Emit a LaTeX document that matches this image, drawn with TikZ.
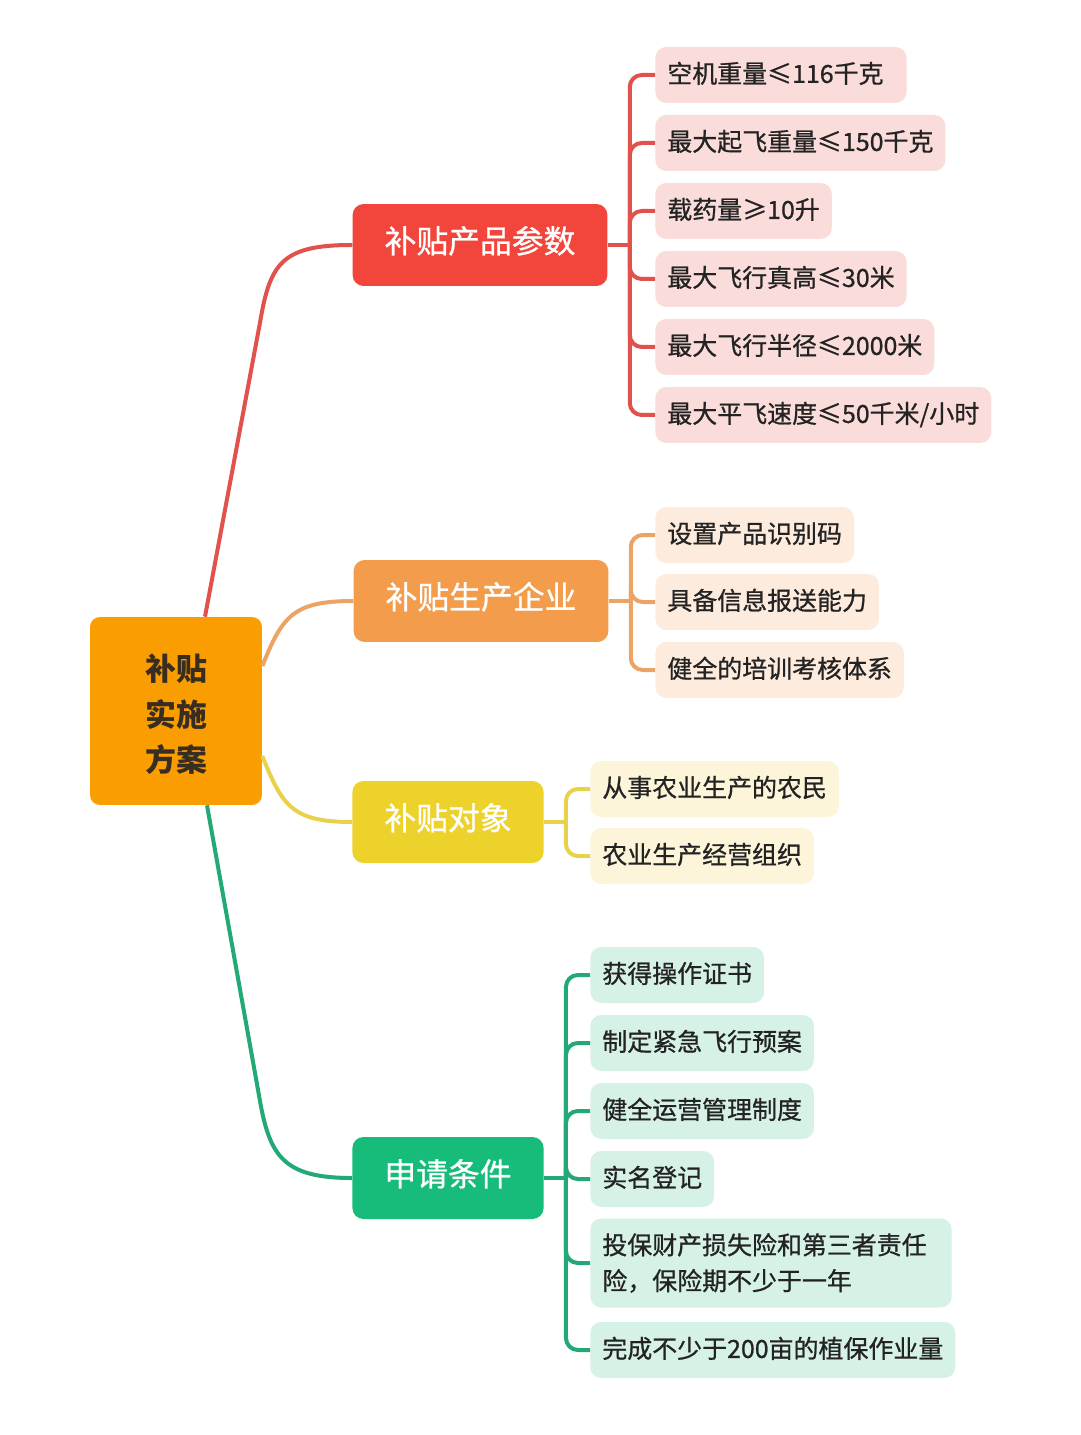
\documentclass[tikz,border=0pt]{standalone}
\usepackage{fontspec}
\setmainfont{Noto Sans CJK SC}
\newfontfamily\medfont{Noto Sans CJK SC}[FakeBold=0.8]
\usetikzlibrary{calc}

\definecolor{planfill}{HTML}{F99D00}
\definecolor{prodfill}{HTML}{F2463C}
\definecolor{prodline}{HTML}{E0524B}
\definecolor{prodleaf}{HTML}{FADDDA}
\definecolor{firmfill}{HTML}{F39C4C}
\definecolor{firmline}{HTML}{EBA463}
\definecolor{firmleaf}{HTML}{FDEBDD}
\definecolor{objfill}{HTML}{EDD22C}
\definecolor{objline}{HTML}{E8D24C}
\definecolor{objleaf}{HTML}{FCF5DA}
\definecolor{condfill}{HTML}{17BC7B}
\definecolor{condline}{HTML}{22A976}
\definecolor{condleaf}{HTML}{D6F1E5}
\definecolor{leaftext}{HTML}{232323}

\tikzset{
  rootbox/.style={rectangle, rounded corners=0.2cm, fill=planfill, minimum width=3.44cm,
    minimum height=3.76cm},
  roottext/.style={align=center, text=leaftext!90!orange, yshift=-0.07cm,
    font=\fontsize{17.6}{26}\selectfont\bfseries},
  branch/.style={rectangle, rounded corners=0.22cm, minimum height=1.64cm, inner xsep=0.64cm,
    text=white, text height=0.95em, text depth=0.05em, font=\fontsize{18.1}{22}\selectfont\medfont},
  leaf/.style={rectangle, rounded corners=0.22cm, anchor=west, minimum height=1.12cm,
    inner xsep=0.24cm, text=leaftext, text height=0.95em, text depth=0.05em,
    font=\fontsize{14.2}{20.4}\selectfont\medfont},
  twoline/.style={text height=, text depth=, align=left, inner ysep=0.22cm},
  link/.style={line width=0.08cm},
}

\begin{document}
\begin{tikzpicture}[x=0.02cm,y=-0.02cm]
  \useasboundingbox[fill=white] (0,0) rectangle (1080,1435);

  \node[rootbox, label={[roottext]center:补贴\\实施\\方案}] (plan) at (176,711) {};

  \node[branch, fill=prodfill] (prod) at (480,245) {补贴产品参数};
  \node[branch, fill=firmfill] (firm) at (481,601) {补贴生产企业};
  \node[branch, fill=objfill] (obj) at (448,822) {补贴对象};
  \node[branch, fill=condfill] (cond) at (448,1178) {申请条件};

  % root to branches
  \draw[link, prodline] ($(plan.north)+(29,0)$) -- ++(55,-294)
    .. controls +(10,-60) and +(-70,0) .. (prod.west);
  \draw[link, firmline] ($(plan.east)+(0,-45)$)
    .. controls +(20,-50) and +(-60,0) .. (firm.west);
  \draw[link, objline] ($(plan.east)+(0,45)$)
    .. controls +(20,50) and +(-60,0) .. (obj.west);
  \draw[link, condline] ($(plan.south)+(31,0)$) -- ++(52,290)
    .. controls +(10,60) and +(-70,0) .. (cond.west);

  % product parameters
  \node[leaf, fill=prodleaf] (p1) at (655,75) {空机重量≤116千克\kern0.22cm};
  \node[leaf, fill=prodleaf] (p2) at (655,143) {最大起飞重量≤150千克};
  \node[leaf, fill=prodleaf] (p3) at (655,211) {载药量≥10升};
  \node[leaf, fill=prodleaf] (p4) at (655,279) {最大飞行真高≤30米};
  \node[leaf, fill=prodleaf] (p5) at (655,347) {最大飞行半径≤2000米};
  \node[leaf, fill=prodleaf] (p6) at (655,415) {最大平飞速度≤50千米/小时};
  \coordinate (jp) at ($(prod.east)+(22,0)$);
  \draw[link, prodline] (prod.east) -- (jp);
  \foreach \n in {p1,p2,p3,p4,p5,p6}
    \draw[link, prodline, rounded corners=0.24cm] (jp) |- (\n.west);

  % producers
  \node[leaf, fill=firmleaf] (f1) at (655,535) {设置产品识别码};
  \node[leaf, fill=firmleaf] (f2) at (655,602) {具备信息报送能力};
  \node[leaf, fill=firmleaf] (f3) at (655,670) {健全的培训考核体系};
  \coordinate (jf) at ($(firm.east)+(22,0)$);
  \draw[link, firmline] (firm.east) -- (jf);
  \foreach \n in {f1,f2,f3}
    \draw[link, firmline, rounded corners=0.24cm] (jf) |- (\n.west);

  % recipients
  \node[leaf, fill=objleaf] (o1) at (590,789) {从事农业生产的农民};
  \node[leaf, fill=objleaf] (o2) at (590,856) {农业生产经营组织};
  \coordinate (jo) at ($(obj.east)+(22,0)$);
  \draw[link, objline] (obj.east) -- (jo);
  \foreach \n in {o1,o2}
    \draw[link, objline, rounded corners=0.24cm] (jo) |- (\n.west);

  % conditions
  \node[leaf, fill=condleaf] (c1) at (590,975) {获得操作证书};
  \node[leaf, fill=condleaf] (c2) at (590,1043) {制定紧急飞行预案};
  \node[leaf, fill=condleaf] (c3) at (590,1111) {健全运营管理制度};
  \node[leaf, fill=condleaf] (c4) at (590,1179) {实名登记};
  \node[leaf, fill=condleaf, twoline, minimum height=1.78cm] (c5) at (590,1263)
    {投保财产损失险和第三者责任\kern0.26cm\\险，保险期不少于一年};
  \node[leaf, fill=condleaf] (c6) at (590,1350) {完成不少于200亩的植保作业量};
  \coordinate (jc) at ($(cond.east)+(22,0)$);
  \draw[link, condline] (cond.east) -- (jc);
  \foreach \n in {c1,c2,c3,c4,c5,c6}
    \draw[link, condline, rounded corners=0.24cm] (jc) |- (\n.west);
\end{tikzpicture}
\end{document}
